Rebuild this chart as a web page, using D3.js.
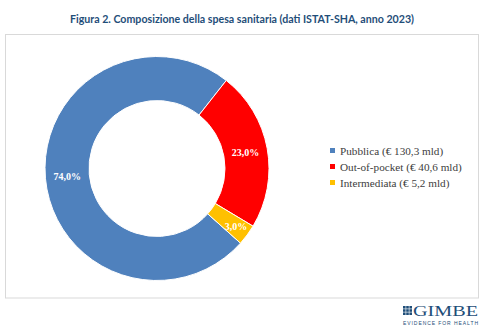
<!DOCTYPE html>
<html><head><meta charset="utf-8">
<script src="https://cdn.jsdelivr.net/npm/d3@7"></script>
<style>html,body{margin:0;padding:0;background:#fff;}svg{display:block;}</style>
</head><body>
<svg id="c" width="484" height="332"></svg>
<script>
const categories = ["Pubblica", "Out-of-pocket", "Intermediata"];
const shares = [74.0, 23.0, 3.0];
const amounts = ["130,3", "40,6", "5,2"];
const colors = ["#4F81BD", "#FF0000", "#FFC000"];
const title = "Figura 2. Composizione della spesa sanitaria (dati ISTAT-SHA, anno 2023)";

const svg = d3.select("#c");

svg.append("text").attr("x", 242).attr("y", 23).attr("text-anchor", "middle")
  .attr("font-family", "Lato, sans-serif").attr("font-weight", "bold")
  .attr("font-size", 12.2).attr("fill", "#1F4E79")
  .attr("textLength", 344).attr("lengthAdjust", "spacingAndGlyphs")
  .text(title);

svg.append("rect").attr("x", 5.5).attr("y", 34.5).attr("width", 473).attr("height", 263.5)
  .attr("fill", "#fff").attr("stroke", "#D9D9D9").attr("stroke-width", 1);

const cx = 157, cy = 168.5, rO = 112, rI = 68;
const start = -228.2 * Math.PI / 180;
const pie = d3.pie().sort(null).startAngle(start).endAngle(start + 2 * Math.PI);
const arcs = pie(shares);
const arc = d3.arc().innerRadius(rI).outerRadius(rO);
const g = svg.append("g").attr("transform", `translate(${cx},${cy})`);
g.selectAll("path").data(arcs).join("path")
  .attr("d", arc).attr("fill", (d, i) => colors[i])
  .attr("stroke", "#fff").attr("stroke-width", 1);

const fmt = v => v.toFixed(1).replace(".", ",") + "%";
const labelR = [90, 90, 98];
g.selectAll("text.lbl").data(arcs).join("text").attr("class", "lbl")
  .attr("transform", (d, i) => {
    const c = d3.arc().innerRadius(labelR[i]).outerRadius(labelR[i]).centroid(d);
    return `translate(${c[0]},${c[1]})`;
  })
  .attr("text-anchor", "middle").attr("dy", "0.35em")
  .attr("font-family", "Liberation Serif, serif").attr("font-weight", "bold")
  .attr("font-size", 10).attr("fill", "#fff")
  .text(d => fmt(d.data));

const leg = svg.append("g").attr("transform", "translate(330,151)");
categories.forEach((c, i) => {
  const row = leg.append("g").attr("transform", `translate(0,${i * 16})`);
  row.append("rect").attr("x", 0).attr("y", -3).attr("width", 5).attr("height", 5).attr("fill", colors[i]);
  row.append("text").attr("x", 10).attr("y", 0).attr("dy", "0.35em")
    .attr("font-family", "Liberation Serif, serif").attr("font-size", 11.2).attr("fill", "#404040")
    .text(`${c} (€ ${amounts[i]} mld)`);
});

// logo
const logo = svg.append("g");
for (let r = 0; r < 3; r++) for (let k = 0; k < 3; k++) {
  logo.append("rect").attr("x", 403 + k * 3.2).attr("y", 306 + r * 3.2).attr("width", 2.6).attr("height", 2.6).attr("fill", "#1F4E79");
}
logo.append("text").attr("x", 413).attr("y", 316).attr("font-family", "Liberation Serif, serif")
  .attr("font-size", 14.5).attr("fill", "#1F4E79").attr("textLength", 65).attr("lengthAdjust", "spacingAndGlyphs").text("GIMBE");
logo.append("text").attr("x", 403).attr("y", 324.5).attr("font-family", "Liberation Sans, sans-serif")
  .attr("font-size", 5).attr("fill", "#1F4E79").attr("textLength", 75).attr("lengthAdjust", "spacing").text("EVIDENCE FOR HEALTH");
</script>
</body></html>
